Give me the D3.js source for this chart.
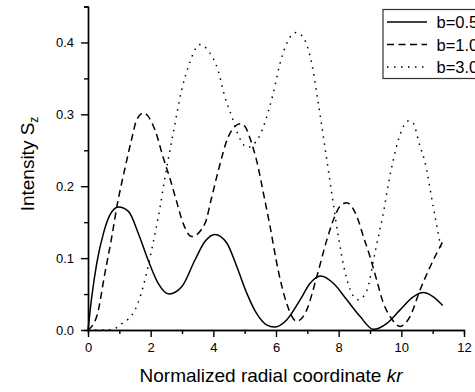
<!DOCTYPE html>
<html>
<head>
<meta charset="utf-8">
<script src="https://cdn.jsdelivr.net/npm/d3@7"></script>
<style>
  html, body { margin: 0; padding: 0; background: #fff; }
  svg { display: block; font-family: "Liberation Sans", Arial, sans-serif; }
</style>
</head>
<body>
<div id="chart"></div>
<script>
// b=0.5 (solid)
const xB05 = [0, 0.12, 0.28, 0.49, 0.7, 0.97, 1.29, 1.61, 1.92, 2.24, 2.59, 2.99, 3.41, 3.73, 4.05, 4.43, 4.75, 5.07, 5.38, 5.7, 5.94, 6.34, 6.77, 7.09, 7.43, 7.83, 8.26, 8.68, 9.11, 9.53, 9.96, 10.38, 10.7, 11.02, 11.32];
const yB05 = [0, 0.046, 0.093, 0.134, 0.160, 0.171, 0.165, 0.134, 0.097, 0.065, 0.050, 0.060, 0.097, 0.123, 0.133, 0.121, 0.088, 0.051, 0.023, 0.007, 0.004, 0.014, 0.042, 0.065, 0.075, 0.065, 0.042, 0.019, 0.001, 0.009, 0.028, 0.046, 0.052, 0.046, 0.034];

// b=1.0 (dashed)
const xB10 = [0, 0.28, 0.54, 0.76, 0.94, 1.18, 1.39, 1.55, 1.77, 2.14, 2.4, 2.62, 2.82, 3.04, 3.31, 3.73, 3.95, 4.16, 4.48, 4.85, 5.01, 5.22, 5.38, 5.6, 5.81, 6.07, 6.34, 6.66, 6.98, 7.3, 7.62, 7.83, 8.04, 8.26, 8.58, 8.79, 9.0, 9.21, 9.43, 9.64, 9.96, 10.28, 10.6, 10.92, 11.32];
const yB10 = [0, 0.019, 0.079, 0.130, 0.176, 0.225, 0.265, 0.292, 0.302, 0.278, 0.240, 0.210, 0.180, 0.148, 0.130, 0.148, 0.185, 0.222, 0.269, 0.287, 0.283, 0.260, 0.236, 0.190, 0.144, 0.083, 0.037, 0.012, 0.028, 0.074, 0.125, 0.153, 0.172, 0.177, 0.158, 0.130, 0.102, 0.070, 0.037, 0.019, 0.005, 0.019, 0.056, 0.088, 0.123];

// b=3.0 (dotted)
const xB30 = [0, 0.5, 0.8, 1.02, 1.5, 1.87, 2.03, 2.3, 2.46, 2.72, 2.99, 3.2, 3.57, 3.85, 4.16, 4.37, 4.59, 4.85, 5.08, 5.44, 5.6, 5.91, 6.13, 6.39, 6.65, 6.9, 7.14, 7.35, 7.56, 7.78, 7.99, 8.2, 8.42, 8.63, 8.9, 9.16, 9.46, 9.59, 9.74, 9.93, 10.24, 10.36, 10.6, 10.74, 11.02, 11.29];
const yB30 = [0, 0, 0.001, 0.007, 0.028, 0.079, 0.111, 0.171, 0.213, 0.274, 0.334, 0.366, 0.397, 0.388, 0.360, 0.324, 0.297, 0.266, 0.254, 0.267, 0.283, 0.329, 0.371, 0.403, 0.414, 0.405, 0.371, 0.315, 0.255, 0.190, 0.130, 0.081, 0.051, 0.042, 0.055, 0.108, 0.171, 0.204, 0.236, 0.268, 0.291, 0.289, 0.255, 0.236, 0.171, 0.108];

const legendLabels = ["b=0.5", "b=1.0", "b=3.0"];
const yTicks = [0, 0.1, 0.2, 0.3, 0.4];
const xTicks = [0, 2, 4, 6, 8, 10, 12];

const width = 475, height = 392;
const margin = { top: 6.5, right: 11, bottom: 62, left: 88 };
const innerW = width - margin.left - margin.right;
const innerH = height - margin.top - margin.bottom;

const svg = d3.select("#chart").append("svg")
  .attr("width", width)
  .attr("height", height)
  .attr("viewBox", `0 0 ${width} ${height}`);

const root = svg.append("g").attr("transform", `translate(${margin.left}, ${margin.top})`);

const x = d3.scaleLinear().domain([0, 12]).range([0, innerW]);
const y = d3.scaleLinear().domain([0, 0.45]).range([innerH, 0]);

const series = [
  { xs: xB05, ys: yB05, dash: null, width: 1.5 },
  { xs: xB10, ys: yB10, dash: "7 4.5", width: 1.5 },
  { xs: xB30, ys: yB30, dash: "1.5 5.5", width: 1.5 }
];

const line = d3.line()
  .x((d) => x(d[0]))
  .y((d) => y(d[1]))
  .curve(d3.curveMonotoneX);

series.forEach((s) => {
  root.append("path")
    .datum(s.xs.map((v, i) => [v, s.ys[i]]))
    .attr("fill", "none")
    .attr("stroke", "#000")
    .attr("stroke-width", s.width)
    .attr("stroke-dasharray", s.dash)
    .attr("d", line);
});

// axes: minor ticks first, then major with labels
const styleAxis = (g) => {
  g.selectAll(".domain").attr("stroke", "#000").attr("stroke-width", 1.4);
  g.selectAll("line").attr("stroke", "#000").attr("stroke-width", 1.4);
  g.selectAll("text").attr("fill", "#000").attr("font-size", "13").attr("font-family", "Liberation Sans, Arial, sans-serif");
};

root.append("g")
  .attr("transform", `translate(0, ${innerH})`)
  .call(d3.axisBottom(x).tickValues(d3.range(1, 12, 2)).tickSize(4).tickFormat(""))
  .call(styleAxis);
root.append("g")
  .attr("transform", `translate(0, ${innerH})`)
  .call(d3.axisBottom(x).tickValues(xTicks).tickSize(7).tickSizeOuter(0).tickPadding(6).tickFormat(d3.format("d")))
  .call(styleAxis);

root.append("g")
  .call(d3.axisLeft(y).tickValues([0.05, 0.15, 0.25, 0.35, 0.45]).tickSize(4).tickFormat(""))
  .call(styleAxis);
root.append("g")
  .call(d3.axisLeft(y).tickValues(yTicks).tickSize(7).tickSizeOuter(0).tickPadding(7).tickFormat(d3.format(".1f")))
  .call(styleAxis);

// axis titles
const xTitle = svg.append("text")
  .attr("x", 271)
  .attr("y", 382)
  .attr("text-anchor", "middle")
  .attr("font-size", "19")
  .attr("fill", "#000");
xTitle.append("tspan").text("Normalized radial coordinate ");
xTitle.append("tspan").attr("font-style", "italic").text("kr");

const yTitle = svg.append("text")
  .attr("transform", "translate(33.5, 164) rotate(-90)")
  .attr("text-anchor", "middle")
  .attr("font-size", "19")
  .attr("fill", "#000");
yTitle.append("tspan").text("Intensity S");
yTitle.append("tspan").attr("font-size", "12").attr("dy", "4").text("z");

// legend
const legend = svg.append("g");
legend.append("rect")
  .attr("x", 383).attr("y", 9.5)
  .attr("width", 110).attr("height", 69)
  .attr("fill", "#fff")
  .attr("stroke", "#333")
  .attr("stroke-width", 1.2);

legendLabels.forEach((label, i) => {
  const ly = 22 + i * 22.5;
  legend.append("line")
    .attr("x1", 387).attr("x2", 427)
    .attr("y1", ly).attr("y2", ly)
    .attr("stroke", "#000")
    .attr("stroke-width", 1.5)
    .attr("stroke-dasharray", series[i].dash);
  legend.append("text")
    .attr("x", 436.5)
    .attr("y", ly + 6)
    .attr("font-size", "16.5")
    .attr("fill", "#000")
    .text(label);
});
</script>
</body>
</html>
